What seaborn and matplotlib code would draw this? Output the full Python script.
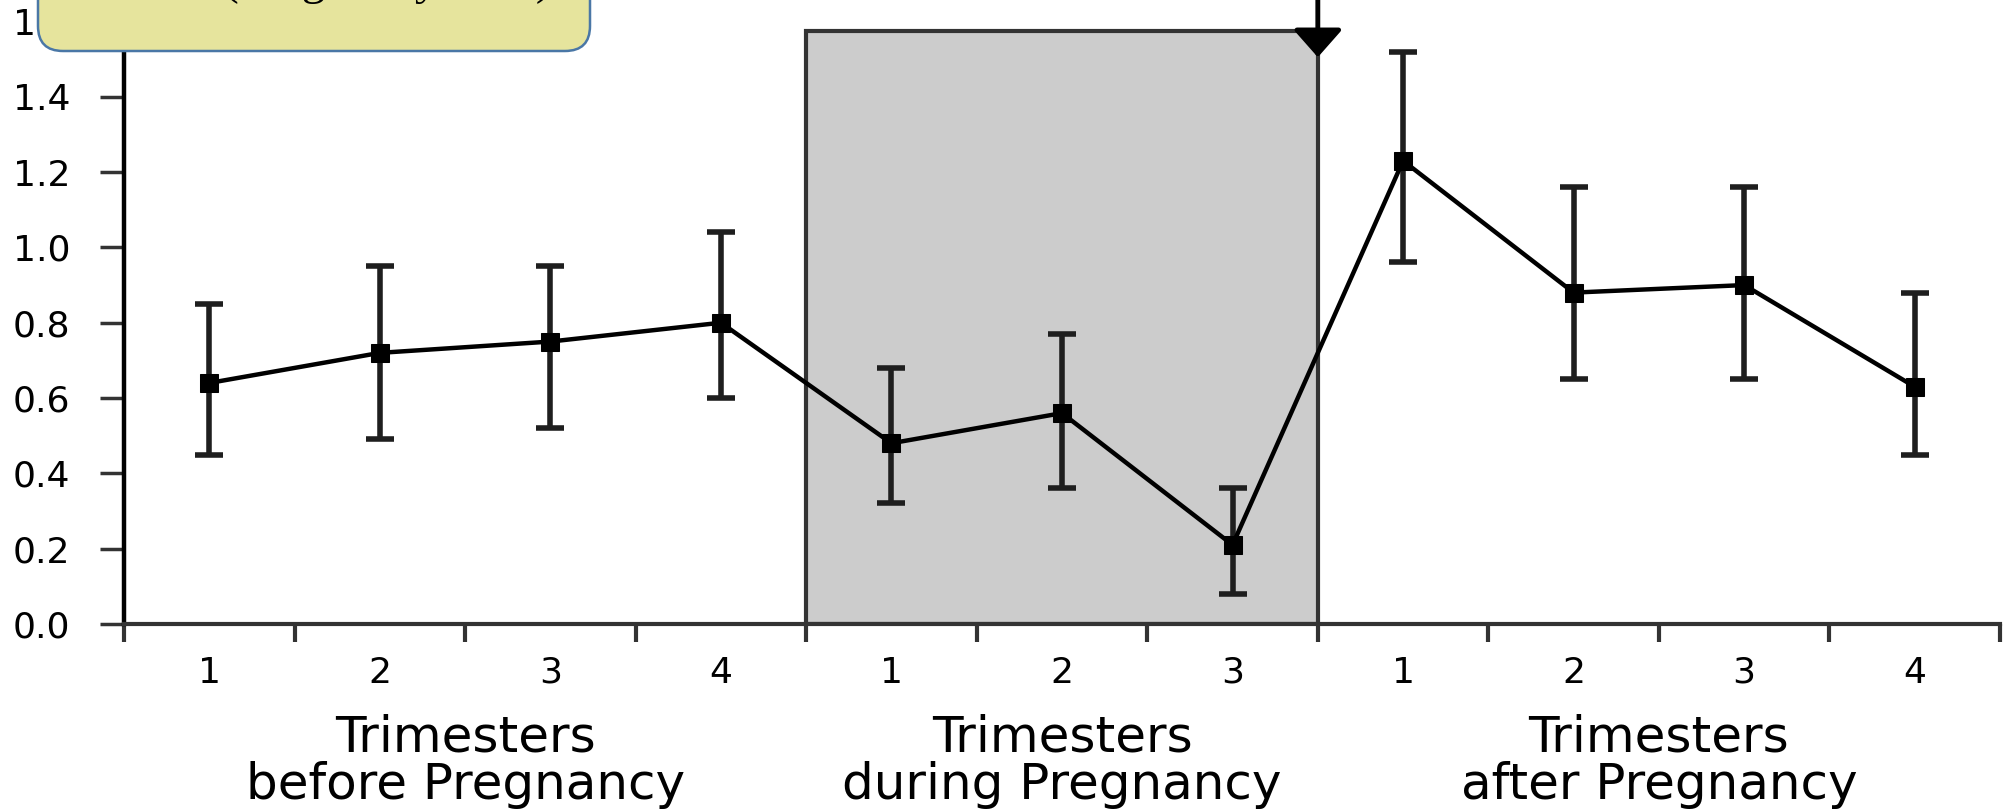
import numpy as np
import pandas as pd
import matplotlib
matplotlib.use('Agg')
import matplotlib.pyplot as plt
import seaborn as sns
from matplotlib.patches import FancyBboxPatch, Rectangle
from matplotlib.transforms import IdentityTransform

# chart values
group_labels = ['Trimesters\nbefore Pregnancy', 'Trimesters\nduring Pregnancy', 'Trimesters\nafter Pregnancy']
group_sizes = [4, 3, 4]
trimester_labels = ['1', '2', '3', '4', '1', '2', '3', '1', '2', '3', '4']
rate = [0.64, 0.72, 0.75, 0.80, 0.48, 0.56, 0.21, 1.23, 0.88, 0.90, 0.63]
err_low = [0.45, 0.49, 0.52, 0.60, 0.32, 0.36, 0.08, 0.96, 0.65, 0.65, 0.45]
err_high = [0.85, 0.95, 0.95, 1.04, 0.68, 0.77, 0.36, 1.52, 1.16, 1.16, 0.88]
yticks = [0.0, 0.2, 0.4, 0.6, 0.8, 1.0, 1.2, 1.4, 1.6]
ytick_labels = ['0.0', '0.2', '0.4', '0.6', '0.8', '1.0', '1.2', '1.4', '1.6']
shade_top = 1.575
arrow_tip = 1.505
y_top = 1.657
box_text = '(Pregnancy Year)'

df = pd.DataFrame({'slot': np.arange(len(rate)) + 0.5, 'rate': rate})
lo = np.array(rate) - np.array(err_low)
hi = np.array(err_high) - np.array(rate)

sns.set_style('white')
plt.rcParams['font.family'] = ['DejaVu Sans']
plt.rcParams['text.color'] = 'black'
plt.rcParams['xtick.color'] = 'black'
plt.rcParams['ytick.color'] = 'black'
plt.rcParams['xtick.labelcolor'] = 'black'
plt.rcParams['ytick.labelcolor'] = 'black'

fig = plt.figure(figsize=(20.1, 8.1), dpi=100)
ax = fig.add_axes([124 / 2010, 186 / 810, (2000 - 124) / 2010, 624 / 810])

bounds = np.cumsum([0] + group_sizes)
centers = (bounds[:-1] + bounds[1:]) / 2

# shaded "during pregnancy" block
ax.add_patch(Rectangle((bounds[1], 0), group_sizes[1], shade_top, facecolor='#cccccc',
                       edgecolor='#333333', lw=3, zorder=1))

ax.errorbar(df['slot'], df['rate'], yerr=[lo, hi], fmt='none', ecolor='#1e1e1e',
            elinewidth=4, capsize=10, capthick=4, zorder=3)
sns.lineplot(data=df, x='slot', y='rate', color='black', lw=3.2, marker='s',
             markersize=13, markeredgecolor='black', ax=ax, zorder=4)

ax.set_xlim(0, bounds[-1])
ax.set_ylim(0, y_top)
ax.set_xlabel('')
ax.set_ylabel('')

ax.set_xticks(np.arange(bounds[-1] + 1))
ax.set_xticklabels([])
ax.set_xticks(df['slot'], minor=True)
ax.set_xticklabels(trimester_labels, minor=True)
ax.tick_params(axis='x', which='major', length=13, width=3, color='#333333', direction='out', bottom=True)
ax.tick_params(axis='x', which='minor', length=0, pad=23, labelsize=26, bottom=True)

ax.set_yticks(yticks, labels=ytick_labels, ha='left')
ax.tick_params(axis='y', length=17, width=2.5, color='#333333', labelsize=26, pad=63, left=True)

for s in ['top', 'right']:
    ax.spines[s].set_visible(False)
ax.spines['left'].set_color('black')
ax.spines['left'].set_linewidth(3.2)
ax.spines['bottom'].set_color('#333333')
ax.spines['bottom'].set_linewidth(3)

for c, lab in zip(centers, group_labels):
    ax.text(c, -0.22, lab, transform=ax.get_xaxis_transform(), ha='center', va='center',
            fontsize=36, linespacing=1.0, color='black')

# arrow at the delivery point
ax.annotate('', xy=(bounds[2], arrow_tip), xytext=(bounds[2], 1.8), annotation_clip=False,
            arrowprops=dict(arrowstyle='-|>,head_length=0.85,head_width=0.75', mutation_scale=20,
                            color='black', lw=3.5, shrinkA=0, shrinkB=0))

# yellow callout box, cut off at the top
box = FancyBboxPatch((38, 759), 552, 200, boxstyle='round,pad=0,rounding_size=25',
                     transform=IdentityTransform(), facecolor='#e6e49d', edgecolor='#4a77a6', lw=1.8)
fig.add_artist(box)
fig.text(387, 816, box_text, transform=IdentityTransform(), ha='center', va='baseline',
         fontsize=34, family='Liberation Serif', zorder=5, color='black')

fig.savefig('out.png', dpi=100)
